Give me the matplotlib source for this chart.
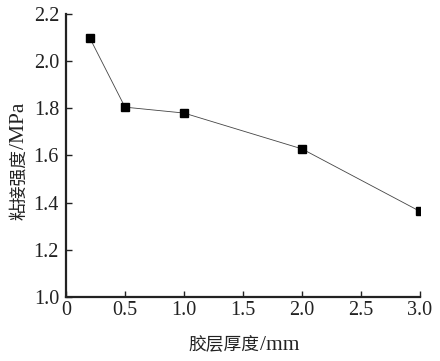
import matplotlib
matplotlib.use("Agg")
import matplotlib.pyplot as plt

thickness = [0.2, 0.5, 1.0, 2.0, 3.0]
strength = [2.10, 1.805, 1.78, 1.628, 1.363]
xticks = [0, 0.5, 1.0, 1.5, 2.0, 2.5, 3.0]
xticklabels = ["0", "0.5", "1.0", "1.5", "2.0", "2.5", "3.0"]
yticks = [1.0, 1.2, 1.4, 1.6, 1.8, 2.0, 2.2]
yticklabels = ["1.0", "1.2", "1.4", "1.6", "1.8", "2.0", "2.2"]
xlabel_parts = ["胶层厚度", "/mm"]
ylabel_parts = ["粘接强度", "/MPa"]

fams = ['Liberation Serif', 'Noto Sans CJK SC']
plt.rcParams['font.family'] = fams

W, H = 440, 361
fig = plt.figure(figsize=(4.4, 3.61), dpi=100)
ax = fig.add_axes([66 / W, 1 - 297 / H, (420 - 66) / W, (297 - 14) / H])
ax.plot(thickness, strength, color='#444444', lw=0.6, marker='s',
        markersize=5.2, markerfacecolor='black', markeredgecolor='black', clip_on=True)
ax.set_xlim(0, 3.0)
ax.set_ylim(1.0, 2.2)
ax.set_xticks(xticks)
ax.set_xticklabels(xticklabels)
ax.set_yticks(yticks)
ax.set_yticklabels(yticklabels)
for s in ['top', 'right']:
    ax.spines[s].set_visible(False)
for s in ['left', 'bottom']:
    ax.spines[s].set_linewidth(1.6)
    ax.spines[s].set_color('#222222')
ax.tick_params(direction='in', length=4.5, width=1.0, labelsize=14.5, colors='#222222')
ax.tick_params(axis='x', pad=3)
ax.tick_params(axis='y', pad=5)

fig.canvas.draw()
r = fig.canvas.get_renderer()

cjk_size, lat_size = 12.8, 15.5
t1 = fig.text(0, 0, xlabel_parts[0], fontsize=cjk_size, family=['Noto Sans CJK SC'],
              color='#222222', ha='left', va='baseline')
t2 = fig.text(0, 0, xlabel_parts[1], fontsize=lat_size, family=['Liberation Serif'],
              color='#222222', ha='left', va='baseline')
w1 = t1.get_window_extent(r).width
w2 = t2.get_window_extent(r).width
x0 = 244 - (w1 + w2) / 2
yb = H - 350
t1.set_position((x0 / W, yb / H))
t2.set_position(((x0 + w1) / W, yb / H))

s1 = fig.text(0, 0, ylabel_parts[0], fontsize=cjk_size, family=['Noto Sans CJK SC'],
              color='#222222', ha='left', va='baseline', rotation=90, rotation_mode='anchor')
s2 = fig.text(0, 0, ylabel_parts[1], fontsize=lat_size, family=['Liberation Serif'],
              color='#222222', ha='left', va='baseline', rotation=90, rotation_mode='anchor')
h1 = s1.get_window_extent(r).height
h2 = s2.get_window_extent(r).height
yc = H - 161
y0 = yc - (h1 + h2) / 2
xb = 24
s1.set_position((xb / W, y0 / H))
s2.set_position((xb / W, (y0 + h1) / H))

fig.savefig('out.png', dpi=100)
